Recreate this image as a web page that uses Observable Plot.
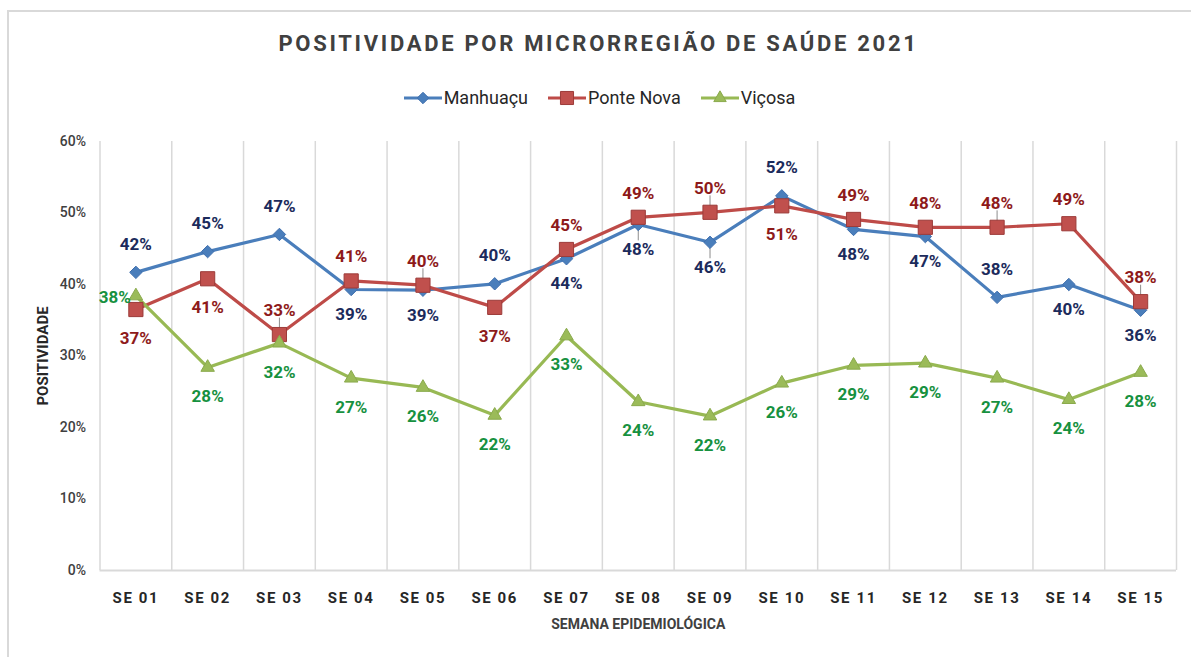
<!DOCTYPE html>
<html>
<head>
<meta charset="utf-8">
<script src="https://cdn.jsdelivr.net/npm/d3@7"></script>
<script src="https://cdn.jsdelivr.net/npm/@observablehq/plot@0.6"></script>
<style>
  body { margin: 0; background: #fff; width: 1191px; height: 657px; overflow: hidden; position: relative; font-family: Roboto, "Open Sans", sans-serif; }
  #frame { position: absolute; left: 7px; top: 10px; width: 1200px; height: 700px; border: 2px solid #d9d9d9; box-sizing: border-box; }
  #title { position: absolute; top: 31px; left: 3px; width: 1191px; text-align: center; font-weight: 700; font-size: 22px; letter-spacing: 2.7px; color: #404040; }
  #legend { position: absolute; top: 87px; left: 4px; width: 1191px; display: flex; justify-content: center; gap: 20px; font-size: 18px; color: #262626; }
  #legend .item { display: flex; align-items: center; gap: 2px; }
  #chart { position: absolute; left: 0; top: 130px; }
  #chart svg g[aria-label^="y-axis"] text { font-size: 14px; font-weight: 500; fill: #404040; }
  #chart svg g[aria-label^="x-axis"] text { font-size: 15px; font-weight: 700; fill: #262626; letter-spacing: 1.6px; }
</style>
</head>
<body>
<div id="frame"></div>
<div id="title">POSITIVIDADE POR MICRORREGIÃO DE SAÚDE 2021</div>
<div id="legend"></div>
<div id="chart"></div>
<script>
// ---- data ----
const weeks = ["SE 01","SE 02","SE 03","SE 04","SE 05","SE 06","SE 07","SE 08","SE 09","SE 10","SE 11","SE 12","SE 13","SE 14","SE 15"];
const manhuacu  = [41.7, 44.6, 47.0, 39.3, 39.2, 40.1, 43.6, 48.4, 45.9, 52.4, 47.7, 46.7, 38.2, 40.0, 36.4];
const ponteNova = [36.5, 40.8, 33.0, 40.5, 39.9, 36.8, 44.9, 49.4, 50.1, 51.0, 49.1, 48.0, 48.0, 48.5, 37.6];
const vicosa    = [38.4, 28.4, 31.8, 26.9, 25.6, 21.7, 32.8, 23.6, 21.6, 26.2, 28.7, 29.0, 26.9, 23.9, 27.7];
const yTicks = [0, 10, 20, 30, 40, 50, 60];
// label side for each point (a = above, b = below, l = left)
const sideManhuacu  = ["a","a","a","b","b","a","b","b","b","a","b","b","a","b","b"];
const sidePonteNova = ["b","b","a","a","a","b","a","a","a","b","a","a","a","a","a"];
const sideVicosa    = ["l","b","b","b","b","b","b","b","b","b","b","b","b","b","b"];
// points whose label has a small leader line
const leaderManhuacu  = ["SE 08", "SE 09"];
const leaderPonteNova = ["SE 03", "SE 05", "SE 09", "SE 13", "SE 15"];
const leaderVicosa    = [];

const series = [
  {name: "Manhuaçu",   values: manhuacu,  sides: sideManhuacu,  leaders: leaderManhuacu,  line: "#4a7ebb", fill: "#4a7ebb", stroke: "#3f6fae", symbol: "diamond2", d3sym: d3.symbolDiamond2 || d3.symbolDiamond, r: 5.6, label: "#1c2b5c", off: {a: -28, b: 25}},
  {name: "Ponte Nova", values: ponteNova, sides: sidePonteNova, leaders: leaderPonteNova, line: "#be4b48", fill: "#c0504d", stroke: "#9c3b39", symbol: "square",   d3sym: d3.symbolSquare, r: 8, label: "#8e1a1a", off: {a: -24, b: 29}},
  {name: "Viçosa",     values: vicosa,    sides: sideVicosa,    leaders: leaderVicosa,    line: "#98b954", fill: "#9bbb59", stroke: "#8aaa4c", symbol: "triangle", d3sym: d3.symbolTriangle, r: 5, label: "#17913f", off: {a: -26, b: 29}}
];

// ---- legend ----
const legend = d3.select("#legend");
for (const s of series) {
  const item = legend.append("div").attr("class", "item");
  const svg = item.append("svg").attr("width", 38).attr("height", 18);
  svg.append("line").attr("x1", 0).attr("x2", 38).attr("y1", 9).attr("y2", 9).attr("stroke", s.line).attr("stroke-width", 3);
  svg.append("path").attr("transform", "translate(19,9)")
    .attr("d", d3.symbol(s.d3sym, Math.PI * s.r * s.r * 0.85)())
    .attr("fill", s.fill).attr("stroke", s.stroke).attr("stroke-width", 1);
  item.append("span").text(s.name);
}

// ---- chart ----
const marks = [
  Plot.ruleX(d3.range(weeks.length + 1).map(i => i + 0.5), {stroke: "#d9d9d9", strokeWidth: 1.5, strokeOpacity: 1}),
  Plot.ruleY([0], {stroke: "#d9d9d9", strokeWidth: 2, strokeOpacity: 1}),
  Plot.text(["SEMANA EPIDEMIOLÓGICA"], {frameAnchor: "bottom", textAnchor: "middle", dy: 58, fontSize: 14, fontWeight: 700, fill: "#404040"}),
  Plot.text(["POSITIVIDADE"], {frameAnchor: "left", textAnchor: "middle", dx: -57, rotate: -90, fontSize: 15, fontWeight: 700, fill: "#262626"})
];
const rowsOf = s => s.values.map((v, i) => ({i: i + 1, week: weeks[i], v, side: s.sides[i]}));
// leader lines (short, from the point toward its label)
for (const s of series) {
  const rows = rowsOf(s).filter(d => s.leaders.includes(d.week));
  marks.push(Plot.ruleX(rows, {x: "i", y1: "v", y2: d => d.v + (d.side === "a" ? 2.3 : -2.3), stroke: "#8c8c8c", strokeWidth: 1}));
}
for (const s of series) {
  marks.push(Plot.line(rowsOf(s), {x: "i", y: "v", stroke: s.line, strokeWidth: 3.2}));
}
for (const s of series) {
  marks.push(Plot.dot(rowsOf(s), {x: "i", y: "v", symbol: s.symbol, r: s.r, fill: s.fill, stroke: s.stroke, strokeWidth: 1}));
}
for (const s of series) {
  const rows = rowsOf(s);
  const txt = d => Math.round(d.v) + "%";
  const common = {x: "i", y: "v", text: txt, fill: s.label, fontSize: 17, fontWeight: 700};
  marks.push(Plot.text(rows.filter(d => d.side === "a"), {...common, dy: s.off.a}));
  marks.push(Plot.text(rows.filter(d => d.side === "b"), {...common, dy: s.off.b}));
  marks.push(Plot.text(rows.filter(d => d.side === "l"), {...common, dx: -21, dy: 2}));
}

const chart = Plot.plot({
  width: 1191,
  height: 520,
  marginTop: 11,
  marginBottom: 80,
  marginLeft: 99.5,
  marginRight: 15,
  style: {fontFamily: "Roboto, 'Open Sans', sans-serif", background: "transparent", overflow: "visible"},
  x: {type: "linear", domain: [0.5, weeks.length + 0.5], ticks: d3.range(1, weeks.length + 1), tickFormat: i => weeks[i - 1], tickSize: 0, tickPadding: 22, label: null},
  y: {domain: [0, 60], ticks: yTicks, tickFormat: d => d + "%", tickSize: 0, tickPadding: 14, label: null},
  marks
});
document.getElementById("chart").appendChild(chart);
</script>
</body>
</html>
